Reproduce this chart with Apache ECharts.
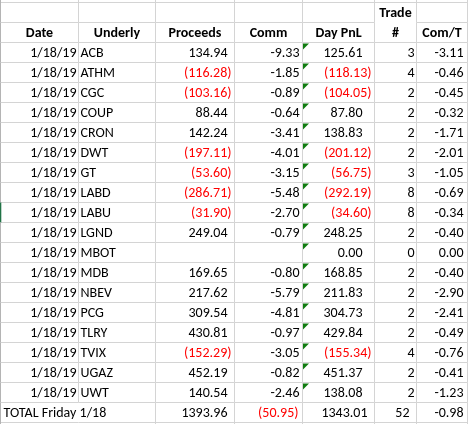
<!DOCTYPE html>
<html><head><meta charset="utf-8">
<script src="https://cdn.jsdelivr.net/npm/echarts@6/dist/echarts.min.js"></script>
<style>html,body{margin:0;padding:0;background:#fff}#c{width:468px;height:424px}</style>
</head><body><div id="c"></div>
<script>
// ---------- data ----------
const headerTop = ['', '', '', '', '', 'Trade', ''];
const headers = ['Date', 'Underly', 'Proceeds', 'Comm', 'Day PnL', '#', 'Com/T'];
const dates = ['1/18/19','1/18/19','1/18/19','1/18/19','1/18/19','1/18/19','1/18/19','1/18/19','1/18/19',
               '1/18/19','1/18/19','1/18/19','1/18/19','1/18/19','1/18/19','1/18/19','1/18/19','1/18/19'];
const tickers = ['ACB','ATHM','CGC','COUP','CRON','DWT','GT','LABD','LABU','LGND','MBOT','MDB','NBEV','PCG','TLRY','TVIX','UGAZ','UWT'];
const proceeds = [134.94,-116.28,-103.16,88.44,142.24,-197.11,-53.60,-286.71,-31.90,249.04,null,169.65,217.62,309.54,430.81,-152.29,452.19,140.54];
const comm = [-9.33,-1.85,-0.89,-0.64,-3.41,-4.01,-3.15,-5.48,-2.70,-0.79,null,-0.80,-5.79,-4.81,-0.97,-3.05,-0.82,-2.46];
const dayPnl = [125.61,-118.13,-104.05,87.80,138.83,-201.12,-56.75,-292.19,-34.60,248.25,0.00,168.85,211.83,304.73,429.84,-155.34,451.37,138.08];
const trades = [3,4,2,2,2,2,3,8,8,2,0,2,2,2,2,4,2,2];
const comPerTrade = [-3.11,-0.46,-0.45,-0.32,-1.71,-2.01,-1.05,-0.69,-0.34,-0.40,0.00,-0.40,-2.90,-2.41,-0.49,-0.76,-0.41,-1.23];
const totalLabel = 'TOTAL Friday 1/18';
const totalProceeds = 1393.96;
const totalComm = -50.95;
const totalPnl = 1343.01;
const totalTrades = 52;
const totalComPerTrade = -0.98;
const selectedTicker = 'LABU';

// ---------- layout / style ----------
const EDGES = [0.5, 78.5, 155.5, 234.5, 302.5, 374.5, 416.5, 467.5];
const FONT = '"Carlito", Lato, "Noto Sans", sans-serif';
const FS = 14;
const BLACK = '#000000', RED = '#ff0000', GRID = '#d4d4d4', EDGE = '#b4b4b4', TRI = '#107c10', SEL = '#217346';
const A = { date: 76.5, und: 80.5, procPos: 227.5, procNeg: 231.5, comm: 299.5, commTot: 298.5,
            pnlPos: 362.5, pnlNeg: 371.5, pnlTot: 367.5, trade: 414.5, tradeTot: 409.5, comt: 463.5, totLabel: 3.5 };

const rowKeys = ['hdrTop', 'hdr'].concat(tickers, ['total']);
const NROWS = rowKeys.length;

function paren(v) {
  if (v === null) return null;
  return v < 0 ? { t: '(' + Math.abs(v).toFixed(2) + ')', c: RED, neg: true } : { t: v.toFixed(2), c: BLACK, neg: false };
}

const cells = [];
function add(x, row, text, align, color, bold) {
  if (text === null || text === '') return;
  cells.push({ value: [x, row], text: text, align: align, color: color || BLACK, bold: !!bold });
}
// headers
headerTop.forEach((h, i) => add((EDGES[i] + EDGES[i + 1]) / 2, 0, h, 'center', BLACK, true));
headers.forEach((h, i) => add((EDGES[i] + EDGES[i + 1]) / 2, 1, h, 'center', BLACK, true));
// data rows
tickers.forEach((tk, i) => {
  const r = i + 2;
  add(A.date, r, dates[i], 'right');
  add(A.und, r, tk, 'left');
  const p = paren(proceeds[i]);
  if (p) add(p.neg ? A.procNeg : A.procPos, r, p.t, 'right', p.c);
  if (comm[i] !== null) add(A.comm, r, comm[i].toFixed(2), 'right');
  const d = paren(dayPnl[i]);
  add(d.neg ? A.pnlNeg : A.pnlPos, r, d.t, 'right', d.c);
  add(A.trade, r, String(trades[i]), 'right');
  add(A.comt, r, comPerTrade[i].toFixed(2), 'right');
});
// total row
const tr = NROWS - 1;
add(A.totLabel, tr, totalLabel, 'left');
const tp = paren(totalProceeds); add(A.procPos, tr, tp.t, 'right', tp.c);
const tc = paren(totalComm); add(A.commTot, tr, tc.t, 'right', tc.c);
const tpl = paren(totalPnl); add(A.pnlTot, tr, tpl.t, 'right', tpl.c);
add(A.tradeTot, tr, String(totalTrades), 'right');
add(A.comt, tr, totalComPerTrade.toFixed(2), 'right');

function band(api, r) {
  const c = api.coord([0, r]);
  const h = api.size([0, 1])[1];
  return [c[1] - h / 2, c[1] + h / 2];
}
function X(api, v, r) { return api.coord([v, r])[0]; }
function line(x1, y1, x2, y2, color, w) {
  return { type: 'line', shape: { x1, y1, x2, y2 }, style: { stroke: color, lineWidth: w || 1 }, silent: true };
}

function renderGrid(params, api) {
  const r = api.value(1);
  const [top, bot] = band(api, r);
  const kids = [];
  const yb = Math.round(bot) + 0.5 - 1;
  const yt = Math.round(top) + 0.5 - 1;
  // bottom horizontal line
  for (let c = 0; c < EDGES.length - 1; c++) {
    if (r === 0 && c === 5) continue; // wrapped "Trade #" header
    kids.push(line(X(api, EDGES[c], r), yb, X(api, EDGES[c + 1], r), yb, GRID));
  }
  if (r === 0) kids.push(line(X(api, EDGES[0], r), yt, X(api, EDGES[EDGES.length - 1], r), yt, GRID));
  const vTop = r === 0 ? 0 : yt;
  const vBot = r === NROWS - 1 ? bot + 2 : yb;
  for (let e = 1; e < EDGES.length; e++) {
    if (r === NROWS - 1 && e === 1) continue; // total label overflows
    kids.push(line(X(api, EDGES[e], r), vTop, X(api, EDGES[e], r), vBot, GRID));
  }
  const isSel = rowKeys[r] === selectedTicker;
  kids.push(line(X(api, EDGES[0], r), vTop, X(api, EDGES[0], r), vBot + (isSel ? 0 : 0), isSel ? SEL : EDGE, isSel ? 1.6 : 1));
  return { type: 'group', children: kids };
}

function renderCell(params, api) {
  const d = cells[params.dataIndex];
  const p = api.coord([api.value(0), api.value(1)]);
  return {
    type: 'text',
    style: {
      text: d.text, x: p[0], y: p[1] + 0.5, align: d.align, verticalAlign: 'middle',
      fill: d.color, font: (d.bold ? 'bold ' : '') + FS + 'px ' + FONT
    },
    silent: true
  };
}

const triRows = tickers.map((tk, i) => [EDGES[4], i + 2]);
function renderTri(params, api) {
  const r = api.value(1);
  const [top] = band(api, r);
  const x = X(api, api.value(0), r) + 0.5;
  const y = Math.round(top) - 0.5 + 1;
  return { type: 'polygon', shape: { points: [[x, y], [x + 6, y], [x, y + 6]] }, style: { fill: TRI }, silent: true };
}

const chart = echarts.init(document.getElementById('c'), null, { renderer: 'canvas' });
chart.setOption({
  animation: false,
  backgroundColor: '#ffffff',
  grid: { left: 0, top: 3, width: 468, height: 420, containLabel: false },
  xAxis: { type: 'value', min: 0, max: 468, show: false },
  yAxis: { type: 'category', data: rowKeys, inverse: true, show: false, boundaryGap: true },
  series: [
    { type: 'custom', name: 'grid', renderItem: renderGrid, data: rowKeys.map((k, i) => [0, i]), encode: { x: 0, y: 1 }, z: 1 },
    { type: 'custom', name: 'flags', renderItem: renderTri, data: triRows, encode: { x: 0, y: 1 }, z: 2 },
    { type: 'custom', name: 'cells', renderItem: renderCell, data: cells.map(c => c.value), encode: { x: 0, y: 1 }, z: 3 }
  ]
});
</script></body></html>
